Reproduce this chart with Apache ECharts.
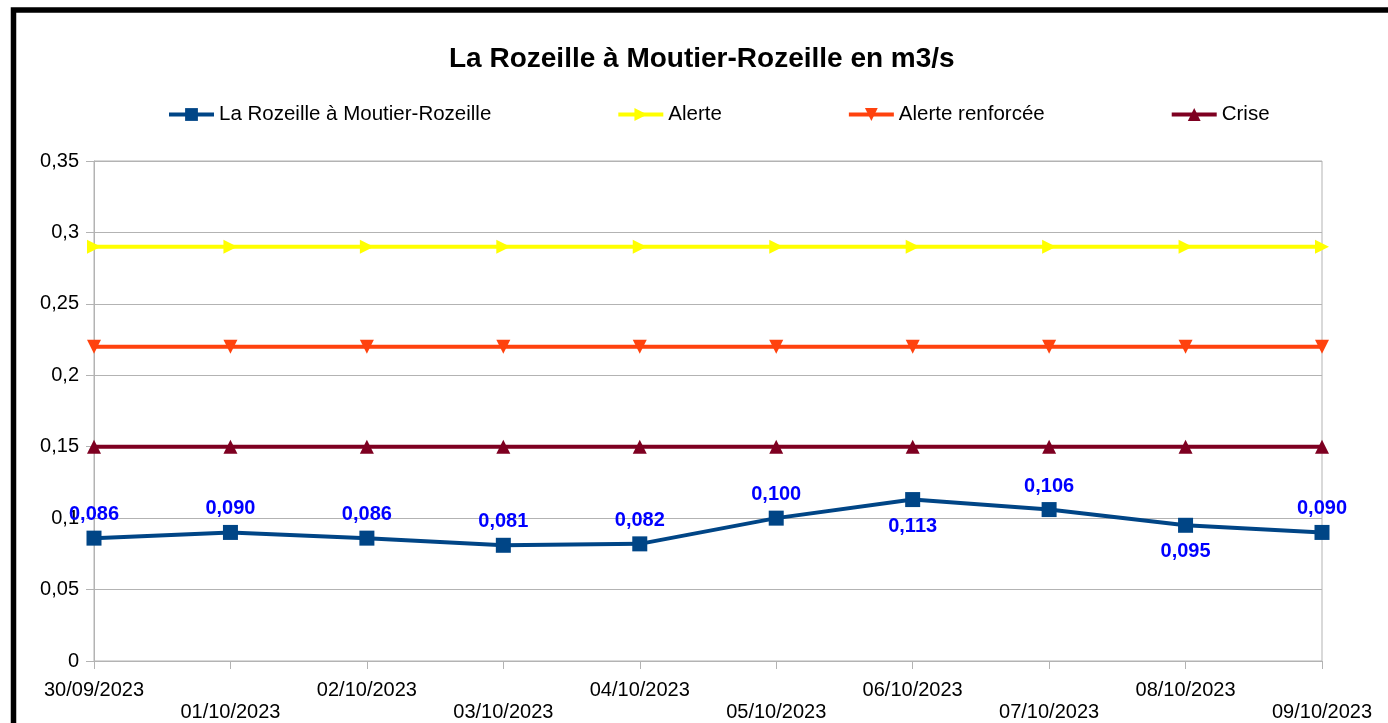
<!DOCTYPE html>
<html>
<head>
<meta charset="utf-8">
<script src="https://cdn.jsdelivr.net/npm/echarts@6/dist/echarts.min.js"></script>
<style>
html,body{margin:0;padding:0;background:#fff;}
#chart{width:1388px;height:723px;}
</style>
</head>
<body>
<div id="chart"></div>
<script>
const titleText = 'La Rozeille à Moutier-Rozeille en m3/s';
const categories = ['30/09/2023','01/10/2023','02/10/2023','03/10/2023','04/10/2023','05/10/2023','06/10/2023','07/10/2023','08/10/2023','09/10/2023'];
const debit = [0.086, 0.090, 0.086, 0.081, 0.082, 0.100, 0.113, 0.106, 0.095, 0.090];
const alerte = [0.29, 0.29, 0.29, 0.29, 0.29, 0.29, 0.29, 0.29, 0.29, 0.29];
const alerteRenforcee = [0.22, 0.22, 0.22, 0.22, 0.22, 0.22, 0.22, 0.22, 0.22, 0.22];
const crise = [0.15, 0.15, 0.15, 0.15, 0.15, 0.15, 0.15, 0.15, 0.15, 0.15];
const labelsBelow = [6, 8];
const seriesNames = ['La Rozeille à Moutier-Rozeille', 'Alerte', 'Alerte renforcée', 'Crise'];

const fmt = v => String(v).replace('.', ',');
const font = 'Liberation Sans, Arial, sans-serif';

const chart = echarts.init(document.getElementById('chart'));
chart.setOption({
  animation: false,
  backgroundColor: '#fff',
  textStyle: { fontFamily: font },
  title: {
    text: titleText,
    left: 444,
    top: 40,
    textStyle: { fontFamily: font, fontSize: 28, fontWeight: 'bold', color: '#000' }
  },
  legend: {
    left: 162,
    top: 99,
    itemWidth: 45,
    itemHeight: 16,
    itemGap: 125,
    lineStyle: { width: 4 },
    textStyle: { fontFamily: font, fontSize: 20.5, color: '#000' },
    data: seriesNames
  },
  graphic: [{
    type: 'rect',
    shape: { x: 13.5, y: 10, width: 1500, height: 900 },
    style: { fill: 'none', stroke: '#000', lineWidth: 5.5 },
    silent: true
  }],
  grid: {
    left: 94, right: 66, top: 161, bottom: 62,
    show: true, borderColor: '#b3b3b3', borderWidth: 1
  },
  xAxis: {
    type: 'category',
    data: categories,
    boundaryGap: false,
    axisLine: { lineStyle: { color: '#b3b3b3', width: 1 } },
    axisTick: { show: true, length: 8, alignWithLabel: true, lineStyle: { color: '#b3b3b3' } },
    splitLine: { show: false },
    axisLabel: {
      interval: 0,
      margin: 18,
      fontSize: 20,
      lineHeight: 22,
      color: '#000',
      fontFamily: font,
      formatter: (v, i) => (i % 2 ? '\n' + v : v)
    }
  },
  yAxis: {
    type: 'value',
    min: 0, max: 0.35, interval: 0.05,
    axisLine: { show: true, lineStyle: { color: '#b3b3b3' } },
    axisTick: { show: true, length: 8, lineStyle: { color: '#b3b3b3' } },
    splitLine: { lineStyle: { color: '#b3b3b3', width: 1 } },
    axisLabel: {
      margin: 15, fontSize: 20, color: '#000', fontFamily: font,
      formatter: v => fmt(+v.toFixed(2))
    }
  },
  series: [
    {
      name: seriesNames[1], type: 'line', data: alerte,
      symbol: 'triangle', symbolRotate: -90, symbolSize: 14,
      lineStyle: { color: '#ffff00', width: 4 },
      itemStyle: { color: '#ffff00' }
    },
    {
      name: seriesNames[2], type: 'line', data: alerteRenforcee,
      symbol: 'triangle', symbolRotate: 180, symbolSize: 14,
      lineStyle: { color: '#ff420e', width: 4 },
      itemStyle: { color: '#ff420e' }
    },
    {
      name: seriesNames[3], type: 'line', data: crise,
      symbol: 'triangle', symbolSize: 14,
      lineStyle: { color: '#7e0021', width: 4 },
      itemStyle: { color: '#7e0021' }
    },
    {
      name: seriesNames[0], type: 'line', z: 5,
      data: debit.map((v, i) => ({
        value: v,
        label: labelsBelow.includes(i) ? { position: 'bottom', distance: 9 } : { position: 'top', distance: 6 }
      })),
      symbol: 'rect', symbolSize: 15,
      lineStyle: { color: '#004586', width: 4 },
      itemStyle: { color: '#004586' },
      label: {
        show: true,
        color: '#0000ff', fontWeight: 'bold', fontSize: 20, fontFamily: font,
        formatter: p => p.value.toFixed(3).replace('.', ',')
      }
    }
  ]
});
</script>
</body>
</html>
